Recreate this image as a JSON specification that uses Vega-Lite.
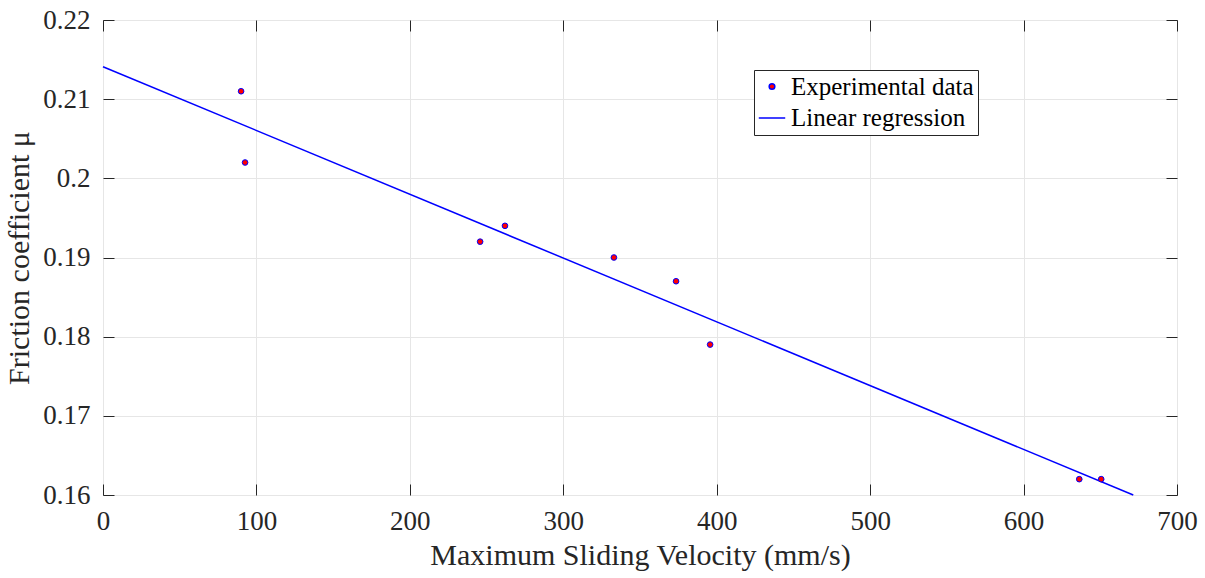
{
  "$schema": "https://vega.github.io/schema/vega-lite/v6.json",
  "width": 1074,
  "height": 475,
  "autosize": {"type": "none"},
  "padding": {"left": 103, "top": 20, "right": 28, "bottom": 83},
  "background": "white",
  "config": {
    "view": {"stroke": "#262626", "strokeWidth": 1},
    "font": "Liberation Serif",
    "axis": {
      "labelFont": "Liberation Serif",
      "titleFont": "Liberation Serif",
      "labelColor": "#262626",
      "titleColor": "#262626",
      "tickColor": "#262626",
      "labelFontSize": 27,
      "titleFontSize": 30,
      "titleFontWeight": "normal",
      "labelFlush": false,
      "labelOverlap": false,
      "domain": false,
      "tickSize": -11,
      "gridColor": "#e6e6e6",
      "gridWidth": 1
    }
  },
  "datasets": {
    "pts": [
      {"v": 90.0, "mu": 0.211, "series": "Experimental data"},
      {"v": 92.6, "mu": 0.202, "series": "Experimental data"},
      {"v": 245.8, "mu": 0.192, "series": "Experimental data"},
      {"v": 262.0, "mu": 0.194, "series": "Experimental data"},
      {"v": 333.0, "mu": 0.190, "series": "Experimental data"},
      {"v": 373.5, "mu": 0.187, "series": "Experimental data"},
      {"v": 395.7, "mu": 0.179, "series": "Experimental data"},
      {"v": 636.3, "mu": 0.162, "series": "Experimental data"},
      {"v": 650.6, "mu": 0.162, "series": "Experimental data"}
    ],
    "fit": [
      {"v": 0, "mu": 0.2141, "series": "Linear regression"},
      {"v": 671.5, "mu": 0.16, "series": "Linear regression"}
    ]
  },
  "resolve": {"axis": {"x": "independent", "y": "independent"}},
  "layer": [
    {
      "data": {"name": "fit"},
      "mark": {"type": "line", "strokeWidth": 1.5},
      "encoding": {
        "x": {
          "field": "v", "type": "quantitative",
          "scale": {"domain": [0, 700], "nice": false, "zero": false},
          "axis": {"orient": "bottom", "values": [0, 100, 200, 300, 400, 500, 600, 700], "format": "d", "grid": true, "labelPadding": 24, "labelFlush": false, "labelFont": "Liberation Serif", "titleFont": "Liberation Serif", "labelFontSize": 27, "titleFontSize": 30, "title": "Maximum Sliding Velocity (mm/s)", "titlePadding": 6}
        },
        "y": {
          "field": "mu", "type": "quantitative",
          "scale": {"domain": [0.16, 0.22], "nice": false, "zero": false},
          "axis": {"orient": "left", "values": [0.16, 0.17, 0.18, 0.19, 0.2, 0.21, 0.22], "format": ".2~f", "grid": true, "labelPadding": 24, "labelFlush": false, "labelFont": "Liberation Serif", "titleFont": "Liberation Serif", "labelFontSize": 27, "titleFontSize": 30, "title": "Friction coefficient μ", "titlePadding": 8}
        },
        "stroke": {
          "field": "series", "type": "nominal",
          "scale": {"domain": ["Experimental data", "Linear regression"], "range": ["blue", "blue"]},
          "legend": {"title": null}
        }
      }
    },
    {
      "data": {"name": "pts"},
      "mark": {"type": "point", "filled": true, "strokeWidth": 1, "opacity": 1},
      "encoding": {
        "x": {
          "field": "v", "type": "quantitative",
          "axis": {"orient": "top", "values": [0, 100, 200, 300, 400, 500, 600, 700], "labels": false, "grid": false, "title": null}
        },
        "y": {
          "field": "mu", "type": "quantitative",
          "axis": {"orient": "right", "values": [0.16, 0.17, 0.18, 0.19, 0.2, 0.21, 0.22], "labels": false, "grid": false, "title": null}
        },
        "shape": {
          "field": "series", "type": "nominal",
          "scale": {"domain": ["Experimental data", "Linear regression"], "range": ["circle", "stroke"]},
          "legend": {
            "title": null, "orient": "none", "legendX": 651, "legendY": 50,
            "strokeColor": "#262626", "fillColor": "white", "padding": 4,
            "labelFont": "Liberation Serif", "labelFontSize": 25, "labelColor": "black", "labelLimit": 400,
            "symbolStrokeWidth": 1.5, "rowPadding": 4, "labelOffset": 5
          }
        },
        "fill": {
          "field": "series", "type": "nominal",
          "scale": {"domain": ["Experimental data", "Linear regression"], "range": ["red", "transparent"]},
          "legend": {"title": null}
        },
        "stroke": {
          "field": "series", "type": "nominal",
          "legend": {"title": null}
        },
        "size": {
          "field": "series", "type": "ordinal",
          "scale": {"domain": ["Experimental data", "Linear regression"], "range": [32, 700]},
          "legend": {"title": null}
        }
      }
    }
  ]
}
